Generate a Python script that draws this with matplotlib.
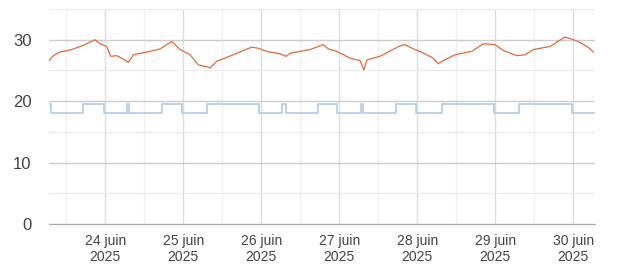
import matplotlib
matplotlib.use('Agg')
import matplotlib.pyplot as plt
from datetime import datetime


START = '2025-06-23 06:40'
END = '2025-06-30 06:40'

# measured temperature (orange)
TEMP_TIMES = [
    '2025-06-23 06:40', '2025-06-23 08:00', '2025-06-23 10:04', '2025-06-23 13:40',
    '2025-06-23 17:14', '2025-06-23 20:50', '2025-06-23 22:22', '2025-06-24 00:26',
    '2025-06-24 01:40', '2025-06-24 03:30', '2025-06-24 05:32', '2025-06-24 07:05',
    '2025-06-24 08:37', '2025-06-24 13:45', '2025-06-24 16:50', '2025-06-24 20:26',
    '2025-06-24 23:00', '2025-06-25 02:04', '2025-06-25 04:37', '2025-06-25 07:12',
    '2025-06-25 08:13', '2025-06-25 10:17', '2025-06-25 15:23', '2025-06-25 21:03',
    '2025-06-25 23:05', '2025-06-26 01:40', '2025-06-26 05:45', '2025-06-26 07:36',
    '2025-06-26 08:50', '2025-06-26 14:59', '2025-06-26 19:05', '2025-06-26 20:37',
    '2025-06-26 23:12', '2025-06-27 03:18', '2025-06-27 06:22', '2025-06-27 07:36',
    '2025-06-27 08:26', '2025-06-27 12:31', '2025-06-27 18:41', '2025-06-27 20:13',
    '2025-06-27 22:46', '2025-06-28 00:50', '2025-06-28 04:55', '2025-06-28 06:28',
    '2025-06-28 08:00', '2025-06-28 11:36', '2025-06-28 16:44', '2025-06-28 20:18',
    '2025-06-28 23:54', '2025-06-29 02:28', '2025-06-29 06:35', '2025-06-29 09:08',
    '2025-06-29 11:41', '2025-06-29 16:50', '2025-06-29 21:27', '2025-06-30 00:00',
    '2025-06-30 02:04', '2025-06-30 04:35', '2025-06-30 06:10',
]
TEMP_VALUES = [
    26.6, 27.4, 28.0, 28.4,
    29.1, 30.0, 29.35, 28.9,
    27.3, 27.4, 26.85, 26.3,
    27.55, 28.1, 28.5, 29.7,
    28.4, 27.55, 25.9, 25.6,
    25.4, 26.5, 27.55, 28.8,
    28.6, 28.1, 27.7, 27.3,
    27.8, 28.4, 29.2, 28.5,
    28.1, 27.0, 26.6, 25.1,
    26.7, 27.3, 29.0, 29.2,
    28.5, 28.1, 27.0, 26.1,
    26.6, 27.55, 28.1, 29.35,
    29.2, 28.25, 27.4, 27.55,
    28.4, 28.9, 30.45, 30.0,
    29.55, 28.75, 28.0,
]

# setpoint (blue step line)
SET_TIMES = [
    '2025-06-23 06:40', '2025-06-23 07:15', '2025-06-23 17:15', '2025-06-23 23:30',
    '2025-06-24 06:35', '2025-06-24 07:25', '2025-06-24 17:20', '2025-06-24 23:30',
    '2025-06-25 07:25', '2025-06-25 23:25', '2025-06-26 06:30', '2025-06-26 07:30',
    '2025-06-26 17:20', '2025-06-26 23:25', '2025-06-27 06:35', '2025-06-27 07:25',
    '2025-06-27 17:20', '2025-06-27 23:30', '2025-06-28 07:30', '2025-06-28 23:30',
    '2025-06-29 07:25', '2025-06-29 23:30', '2025-06-30 06:40',
]
SET_VALUES = [
    19.5, 18.0, 19.5, 18.0,
    19.5, 18.0, 19.5, 18.0,
    19.5, 18.0, 19.5, 18.0,
    19.5, 18.0, 19.5, 18.0,
    19.5, 18.0, 19.5, 18.0,
    19.5, 18.0, 18.0,
]

DAY_TICKS = ['2025-06-24', '2025-06-25', '2025-06-26', '2025-06-27',
             '2025-06-28', '2025-06-29', '2025-06-30']
DAY_LABELS = ['24 juin\n2025', '25 juin\n2025', '26 juin\n2025', '27 juin\n2025',
              '28 juin\n2025', '29 juin\n2025', '30 juin\n2025']
NOON_TICKS = ['2025-06-23 12:00', '2025-06-24 12:00', '2025-06-25 12:00',
              '2025-06-26 12:00', '2025-06-27 12:00', '2025-06-28 12:00',
              '2025-06-29 12:00']


def to_dates(values):
    return [datetime.strptime(v, '%Y-%m-%d %H:%M') if ' ' in v
            else datetime.strptime(v, '%Y-%m-%d') for v in values]


plt.rcParams['font.family'] = ['Liberation Sans', 'DejaVu Sans']

fig = plt.figure(figsize=(6.21, 2.65), dpi=100)
ax = fig.add_axes([49 / 621, 41 / 265, 546 / 621, 215 / 265])

ax.plot(to_dates(TEMP_TIMES), TEMP_VALUES, color='#dd6a40', lw=0.9, zorder=3)
ax.step(to_dates(SET_TIMES), SET_VALUES, where='post', color='#b3cbe0', lw=1.2, zorder=3)

ax.set_yticks([0, 10, 20, 30])
ax.set_yticks([5, 15, 25, 35], minor=True)
ax.set_xticks(to_dates(DAY_TICKS))
ax.set_xticklabels(DAY_LABELS)
ax.set_xticks(to_dates(NOON_TICKS), minor=True)

# limits after ticks so set_xticks cannot widen the view
ax.set_xlim(to_dates([START, END]))
ax.set_ylim(0, 35)

ax.grid(which='major', axis='y', color='#cccccc', lw=1.0)
ax.grid(which='minor', axis='y', color='#ebebeb', lw=1.0)
ax.grid(which='major', axis='x', color='#dddddd', lw=1.0)
ax.grid(which='minor', axis='x', color='#f0f0f0', lw=1.0)
ax.set_axisbelow(True)

for side in ['top', 'right', 'left']:
    ax.spines[side].set_visible(False)
ax.spines['bottom'].set_color('#aaaaaa')

ax.tick_params(axis='y', which='both', length=0, pad=12.5, labelsize=12, labelcolor='#444444')
ax.tick_params(axis='x', which='both', length=0, pad=7, labelsize=10, labelcolor='#444444')
for lbl in ax.get_xticklabels():
    lbl.set_linespacing(1.25)

fig.savefig('out.png', dpi=100)
